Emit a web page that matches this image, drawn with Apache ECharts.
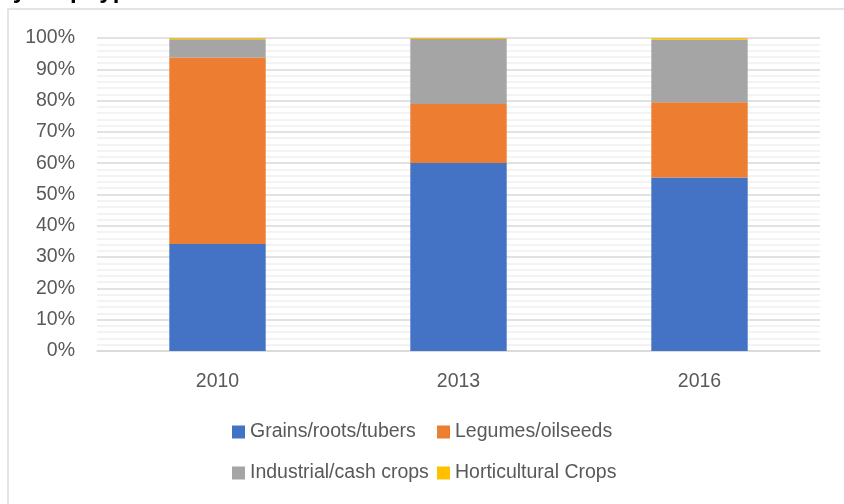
<!DOCTYPE html>
<html>
<head>
<meta charset="utf-8">
<script src="https://cdn.jsdelivr.net/npm/echarts@6/dist/echarts.min.js"></script>
<style>
  html, body { margin: 0; padding: 0; background: #fff; }
  #chart { width: 844px; height: 504px; }
</style>
</head>
<body>
<div id="chart"></div>
<script>
// Share of crop production by crop type, per survey year (%)
const years = ['2010', '2013', '2016'];
const grains = [34.2, 60.1, 55.4];
const legumes = [59.6, 18.8, 24.1];
const industrial = [5.8, 20.8, 20.0];
const horticultural = [0.4, 0.3, 0.5];
const yTicks = [0, 10, 20, 30, 40, 50, 60, 70, 80, 90, 100];

const seriesNames = ['Grains/roots/tubers', 'Legumes/oilseeds', 'Industrial/cash crops', 'Horticultural Crops'];
const seriesData = [grains, legumes, industrial, horticultural];
const colors = ['#4472C4', '#ED7D31', '#A5A5A5', '#FFC000'];

const FONT = '"Liberation Sans", Arial, sans-serif';
const FS = 19.5;
const TEXT = '#595959';

const chart = echarts.init(document.getElementById('chart'), null, { renderer: 'canvas' });

// legend entries laid out in two rows of two, columns aligned
const legendPos = [
  { left: 232, top: 422 },
  { left: 437, top: 422 },
  { left: 232, top: 463 },
  { left: 437, top: 463 }
];

chart.setOption({
  animation: false,
  color: colors,
  graphic: [
    {
      type: 'rect',
      shape: { x: 8, y: 9, width: 900, height: 600 },
      style: { fill: 'none', stroke: '#dcdcdc', lineWidth: 1.5 },
      z: -10
    },
    {
      // heading sits above the frame; only its lower edge shows
      type: 'text',
      x: -2,
      y: 3,
      style: {
        text: 'by crop type',
        font: 'bold 24px "Liberation Sans", Arial, sans-serif',
        fill: '#000',
        verticalAlign: 'bottom'
      }
    }
  ],
  legend: seriesNames.map((n, i) => ({
    data: [n],
    left: legendPos[i].left,
    top: legendPos[i].top,
    itemWidth: 13,
    itemHeight: 13,
    icon: 'rect',
    padding: 0,
    selectedMode: false,
    textStyle: { color: TEXT, fontSize: FS, fontFamily: FONT }
  })),
  grid: { left: 97, right: 24, top: 38, bottom: 153, containLabel: false },
  xAxis: {
    type: 'category',
    data: years,
    axisLine: { show: true, lineStyle: { color: '#d9d9d9', width: 1.5 } },
    axisTick: { show: false },
    axisLabel: { color: TEXT, fontSize: FS, fontFamily: FONT, margin: 21 }
  },
  yAxis: {
    type: 'value',
    min: yTicks[0],
    max: yTicks[yTicks.length - 1],
    interval: 10,
    axisLine: { show: false },
    axisTick: { show: false },
    axisLabel: { color: TEXT, fontSize: FS, fontFamily: FONT, margin: 22, formatter: '{value}%' },
    splitLine: { show: true, lineStyle: { color: '#d9d9d9', width: 1.5 } },
    minorTick: { show: false, splitNumber: 5 },
    minorSplitLine: { show: true, lineStyle: { color: '#efefef', width: 1.5 } }
  },
  series: seriesNames.map((n, i) => ({
    name: n,
    type: 'bar',
    stack: 'total',
    barWidth: '40%',
    data: seriesData[i],
    itemStyle: { color: colors[i] }
  }))
});
</script>
</body>
</html>
